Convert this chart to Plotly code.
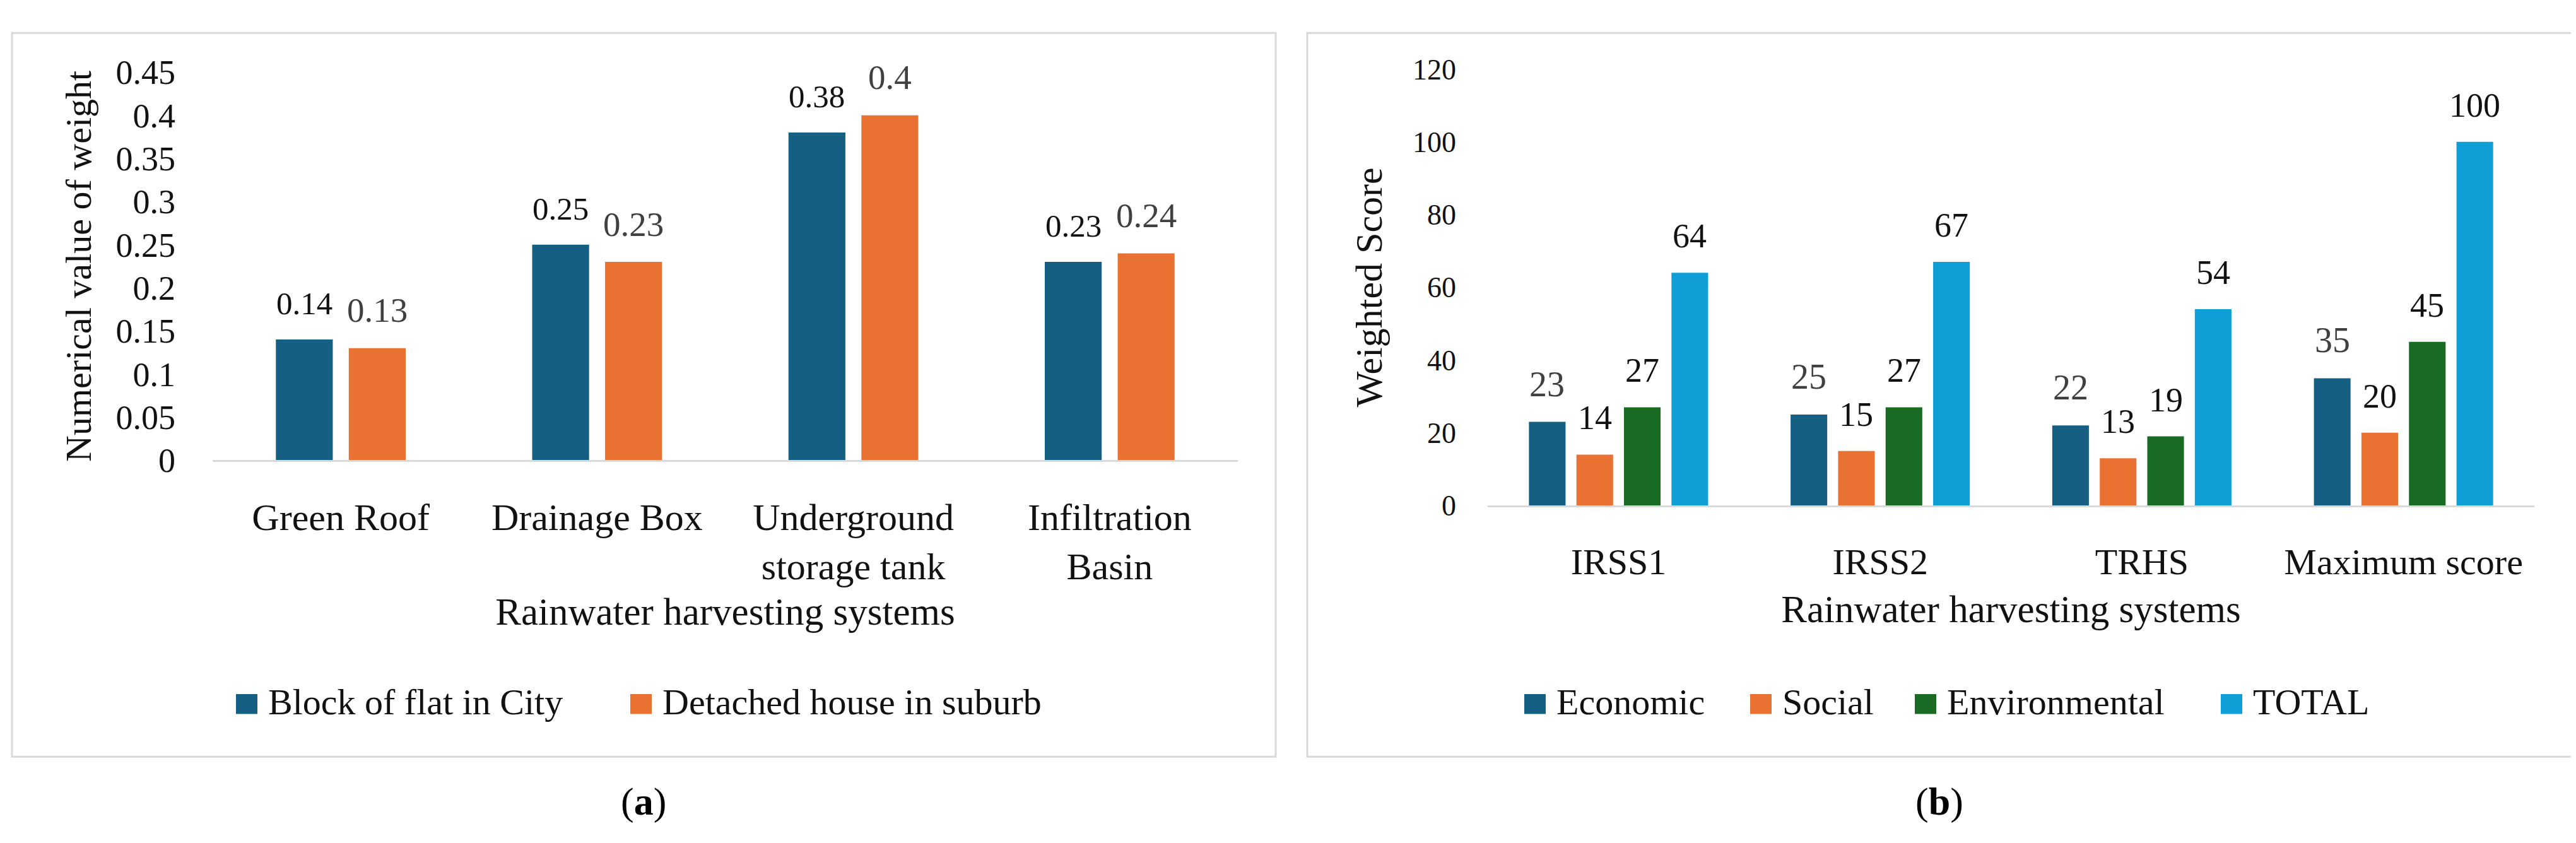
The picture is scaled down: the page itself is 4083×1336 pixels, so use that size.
import plotly.graph_objects as go

# ---------------- data ----------------
systems_a = ["Green Roof", "Drainage Box", "Underground storage tank", "Infiltration Basin"]
systems_a_ticktext = ["Green Roof", "Drainage Box", "Underground<br>storage tank", "Infiltration<br>Basin"]
block_flat_city = [0.14, 0.25, 0.38, 0.23]
detached_suburb = [0.13, 0.23, 0.40, 0.24]
ticks_a = [0, 0.05, 0.1, 0.15, 0.2, 0.25, 0.3, 0.35, 0.4, 0.45]
ticktext_a = ["0", "0.05", "0.1", "0.15", "0.2", "0.25", "0.3", "0.35", "0.4", "0.45"]

systems_b = ["IRSS1", "IRSS2", "TRHS", "Maximum score"]
economic = [23, 25, 22, 35]
social = [14, 15, 13, 20]
environmental = [27, 27, 19, 45]
total = [64, 67, 54, 100]
ticks_b = [0, 20, 40, 60, 80, 100, 120]

# ---------------- style ----------------
W, H = 4083, 1336
FONT = "Liberation Serif"
BLACK = "#111111"
GRAY = "#404040"
C_BLUE = "#156082"
C_ORANGE = "#E97132"
C_GREEN = "#196B24"
C_LIGHT = "#0F9ED5"
FRAME = "#D9D9D9"


def px_x(x):
    return x / W


def px_y(y):
    return 1 - y / H


fig = go.Figure()

# ---- panel (a) bars ----
wa = 0.222
centres_a = [-0.1422, 0.1422]
series_a = [
    ("Block of flat in City", block_flat_city, C_BLUE, BLACK, 51, 57),
    ("Detached house in suburb", detached_suburb, C_ORANGE, GRAY, 55, 60),
]
for (name, vals, col, lcol, lsize, lshift), c in zip(series_a, centres_a):
    fig.add_trace(go.Bar(
        x=systems_a, y=vals, name=name, marker=dict(color=col, line=dict(width=0)),
        width=wa, offset=c - wa / 2, xaxis="x", yaxis="y", showlegend=False,
    ))

# ---- panel (b) bars ----
wb = 0.14
centres_b = [-0.2724, -0.0908, 0.0908, 0.2724]
series_b = [
    ("Economic", economic, C_BLUE, GRAY, 56, 60),
    ("Social", social, C_ORANGE, BLACK, 54, 58),
    ("Environmental", environmental, C_GREEN, BLACK, 54, 58),
    ("TOTAL", total, C_LIGHT, BLACK, 54, 58),
]
for (name, vals, col, lcol, lsize, lshift), c in zip(series_b, centres_b):
    fig.add_trace(go.Bar(
        x=systems_b, y=vals, name=name, marker=dict(color=col, line=dict(width=0)),
        width=wb, offset=c - wb / 2, xaxis="x2", yaxis="y2", showlegend=False,
    ))

# ---- data labels (placed on the axes' own scales) ----
annotations = []
for (name, vals, col, lcol, lsize, lshift), c in zip(series_a, centres_a):
    for i, v in enumerate(vals):
        annotations.append(dict(
            x=i + c, y=v, xref="x", yref="y", text=str(v), showarrow=False,
            yanchor="middle", yshift=lshift, font=dict(family=FONT, size=lsize, color=lcol),
        ))
for (name, vals, col, lcol, lsize, lshift), c in zip(series_b, centres_b):
    for i, v in enumerate(vals):
        annotations.append(dict(
            x=i + c, y=v, xref="x2", yref="y2", text=str(v), showarrow=False,
            yanchor="middle", yshift=lshift, font=dict(family=FONT, size=lsize, color=lcol),
        ))

# panel captions
annotations.append(dict(x=px_x(1012), y=px_y(1292), xref="paper", yref="paper",
                        text="(<b>a</b>)", showarrow=False, xanchor="center", yanchor="middle",
                        font=dict(family=FONT, size=62, color="#000000")))
annotations.append(dict(x=px_x(3066), y=px_y(1292), xref="paper", yref="paper",
                        text="(<b>b</b>)", showarrow=False, xanchor="center", yanchor="middle",
                        font=dict(family=FONT, size=62, color="#000000")))

# ---- panel frames ----
shapes = [
    dict(type="rect", xref="paper", yref="paper", x0=px_x(11), x1=px_x(2014),
         y0=px_y(1217), y1=px_y(16), line=dict(color=FRAME, width=3), fillcolor="rgba(0,0,0,0)", layer="below"),
    dict(type="rect", xref="paper", yref="paper", x0=px_x(2064), x1=px_x(4069),
         y0=px_y(1217), y1=px_y(16), line=dict(color=FRAME, width=3), fillcolor="rgba(0,0,0,0)", layer="below"),
]

# ---- legends (colour key: square swatch + serif label) ----
legend_items = [
    ("Block of flat in City", C_BLUE, 366),
    ("Detached house in suburb", C_ORANGE, 991),
    ("Economic", C_BLUE, 2408),
    ("Social", C_ORANGE, 2766),
    ("Environmental", C_GREEN, 3027),
    ("TOTAL", C_LIGHT, 3512),
]
SW = 34          # swatch size in px
LEG_BASE = 1146  # text baseline / swatch bottom
for name, col, xpos in legend_items:
    shapes.append(dict(type="rect", xref="paper", yref="paper",
                       x0=px_x(xpos), x1=px_x(xpos + SW), y0=px_y(LEG_BASE), y1=px_y(LEG_BASE - SW + 1),
                       line=dict(width=0), fillcolor=col))
    annotations.append(dict(x=px_x(xpos + SW + 15), y=px_y(LEG_BASE - 20), xref="paper", yref="paper",
                            text=name, showarrow=False, xanchor="left", yanchor="middle",
                            font=dict(family=FONT, size=58, color=BLACK)))

fig.update_layout(
    width=W, height=H, autosize=False,
    margin=dict(l=0, r=0, t=0, b=0),
    paper_bgcolor="white", plot_bgcolor="white",
    barmode="group", showlegend=False,
    font=dict(family=FONT, color=BLACK),
    annotations=annotations, shapes=shapes,
    xaxis=dict(
        domain=[px_x(329), px_x(1954)], anchor="y", type="category",
        tickvals=systems_a, ticktext=systems_a_ticktext,
        showline=True, linecolor=FRAME, linewidth=3, ticks="", showgrid=False,
        tickfont=dict(family=FONT, size=60, color=BLACK), ticklabelstandoff=36,
        title=dict(text="Rainwater harvesting systems", font=dict(family=FONT, size=61, color=BLACK), standoff=17),
        range=[-0.5, 3.5], fixedrange=True,
    ),
    yaxis=dict(
        domain=[px_y(725), px_y(81)], anchor="x", range=[0, 0.45],
        tickvals=ticks_a, ticktext=ticktext_a, showgrid=False, zeroline=False, showline=False, ticks="",
        tickfont=dict(family=FONT, size=54, color=BLACK), ticklabelstandoff=58,
        title=dict(text="Numerical value of weight", font=dict(family=FONT, size=58, color=BLACK), standoff=20),
        fixedrange=True,
    ),
    xaxis2=dict(
        domain=[px_x(2350), px_x(4009)], anchor="y2", type="category",
        tickvals=systems_b, ticktext=systems_b,
        showline=True, linecolor=FRAME, linewidth=3, ticks="", showgrid=False,
        tickfont=dict(family=FONT, size=58, color=BLACK), ticklabelstandoff=36,
        title=dict(text="Rainwater harvesting systems", font=dict(family=FONT, size=61, color=BLACK), standoff=22),
        range=[-0.5, 3.5], fixedrange=True,
    ),
    yaxis2=dict(
        domain=[px_y(800), px_y(76)], anchor="x2", range=[0, 120],
        tickvals=ticks_b, showgrid=False, zeroline=False, showline=False, ticks="",
        tickfont=dict(family=FONT, size=46, color=BLACK), ticklabelstandoff=49,
        title=dict(text="Weighted Score", font=dict(family=FONT, size=60, color=BLACK), standoff=28),
        fixedrange=True,
    ),
)

fig.write_html("out.html")
